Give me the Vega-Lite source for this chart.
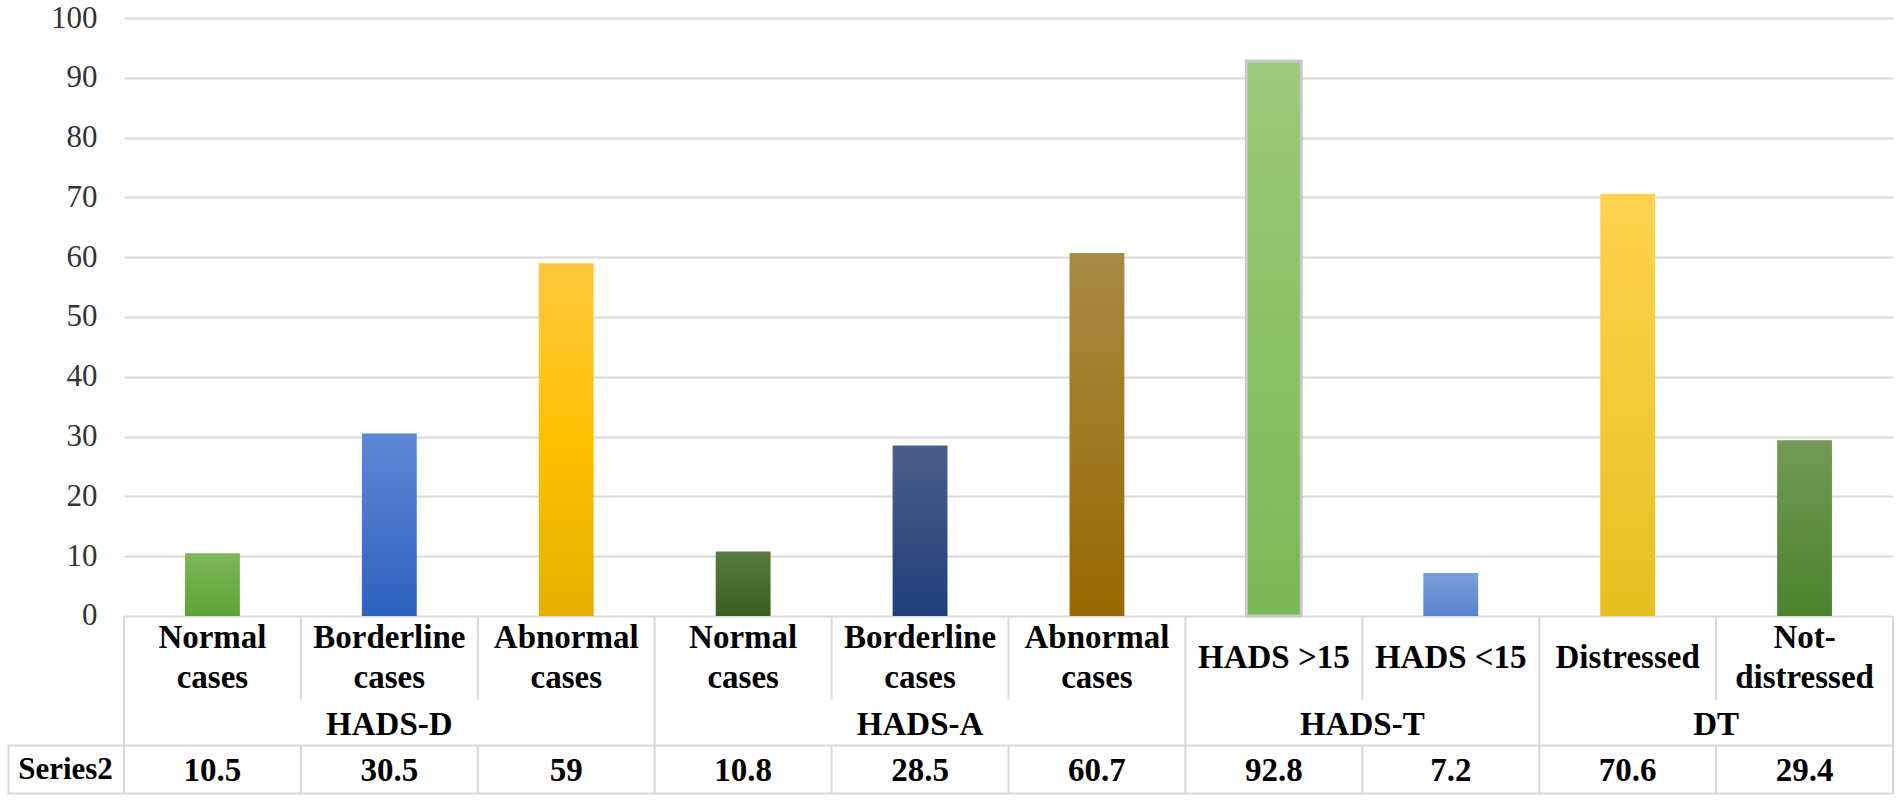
{
  "$schema": "https://vega.github.io/schema/vega-lite/v6.json",
  "width": 1769,
  "height": 775,
  "autosize": {"type": "none"},
  "padding": {"left": 124, "top": 18, "right": 9, "bottom": 9},
  "background": "white",
  "data": {
    "values": [
      {"key": "HADS-D Normal", "label": "Normal\ncases", "group": "HADS-D", "value": 10.5},
      {"key": "HADS-D Borderline", "label": "Borderline\ncases", "group": "HADS-D", "value": 30.5},
      {"key": "HADS-D Abnormal", "label": "Abnormal\ncases", "group": "HADS-D", "value": 59},
      {"key": "HADS-A Normal", "label": "Normal\ncases", "group": "HADS-A", "value": 10.8},
      {"key": "HADS-A Borderline", "label": "Borderline\ncases", "group": "HADS-A", "value": 28.5},
      {"key": "HADS-A Abnormal", "label": "Abnormal\ncases", "group": "HADS-A", "value": 60.7},
      {"key": "HADS-T >15", "label": "HADS >15", "group": "HADS-T", "value": 92.8},
      {"key": "HADS-T <15", "label": "HADS <15", "group": "HADS-T", "value": 7.2},
      {"key": "DT Distressed", "label": "Distressed", "group": "DT", "value": 70.6},
      {"key": "DT Not-distressed", "label": "Not-\ndistressed", "group": "DT", "value": 29.4}
    ]
  },
  "transform": [
    {"window": [{"op": "row_number", "as": "r"}], "groupby": ["group"]},
    {"joinaggregate": [{"op": "count", "as": "n"}], "groupby": ["group"]}
  ],
  "encoding": {
    "x": {
      "field": "key",
      "type": "nominal",
      "sort": null,
      "scale": {"paddingInner": 0, "paddingOuter": 0},
      "axis": null
    }
  },
  "layer": [
    {
      "mark": {"type": "bar", "width": {"band": 0.31}},
      "encoding": {
        "y": {
          "field": "value",
          "type": "quantitative",
          "scale": {"domain": [-29.6, 100], "nice": false, "zero": false},
          "axis": {
            "values": [0, 10, 20, 30, 40, 50, 60, 70, 80, 90, 100, -21.6, -25.6, -29.6],
            "title": null,
            "domain": false,
            "grid": true,
            "gridColor": "#d9d9d9",
            "gridWidth": 2,
            "gridOpacity": {"condition": {"test": "datum.value == -25.6", "value": 0}, "value": 1},
            "ticks": true,
            "tickSize": 117,
            "tickColor": "#d9d9d9",
            "tickWidth": {"condition": {"test": "datum.value == -25.6", "value": 48}, "value": 2},
            "tickOpacity": {"condition": {"test": "datum.value < 0", "value": 1}, "value": 0},
            "tickDash": {"condition": {"test": "datum.value == -25.6", "value": [2, 300]}, "value": []},
            "tickDashOffset": {"condition": {"test": "datum.value == -25.6", "value": 187}, "value": 0},
            "labelExpr": "datum.value == -25.6 ? 'Series2' : (datum.value < 0 ? '' : datum.label)",
            "labelAlign": {"condition": {"test": "datum.value == -25.6", "value": "center"}, "value": "right"},
            "labelPadding": {"condition": {"test": "datum.value == -25.6", "value": -58}, "value": -90},
            "labelFont": "Liberation Serif",
            "labelFontSize": 31,
            "labelFontWeight": {"condition": {"test": "datum.value == -25.6", "value": "bold"}, "value": "normal"},
            "labelColor": {"condition": {"test": "datum.value == -25.6", "value": "black"}, "value": "#333333"},
            "labelOverlap": false,
            "labelBound": false,
            "labelFlush": false
          }
        },
        "y2": {"datum": 0},
        "fill": {
          "condition": [
            {"test": "datum.key == 'HADS-D Normal'", "value": {"gradient": "linear", "x1": 0, "y1": 0, "x2": 0, "y2": 1, "stops": [{"offset": 0, "color": "#7cb85a"}, {"offset": 1, "color": "#5ea333"}]}},
            {"test": "datum.key == 'HADS-D Borderline'", "value": {"gradient": "linear", "x1": 0, "y1": 0, "x2": 0, "y2": 1, "stops": [{"offset": 0, "color": "#5d88d5"}, {"offset": 1, "color": "#2e62c0"}]}},
            {"test": "datum.key == 'HADS-D Abnormal'", "value": {"gradient": "linear", "x1": 0, "y1": 0, "x2": 0, "y2": 1, "stops": [{"offset": 0, "color": "#ffc83e"}, {"offset": 0.5, "color": "#ffc000"}, {"offset": 1, "color": "#e6b000"}]}},
            {"test": "datum.key == 'HADS-A Normal'", "value": {"gradient": "linear", "x1": 0, "y1": 0, "x2": 0, "y2": 1, "stops": [{"offset": 0, "color": "#587b3e"}, {"offset": 1, "color": "#375f1f"}]}},
            {"test": "datum.key == 'HADS-A Borderline'", "value": {"gradient": "linear", "x1": 0, "y1": 0, "x2": 0, "y2": 1, "stops": [{"offset": 0, "color": "#4b5e8b"}, {"offset": 1, "color": "#203f79"}]}},
            {"test": "datum.key == 'HADS-A Abnormal'", "value": {"gradient": "linear", "x1": 0, "y1": 0, "x2": 0, "y2": 1, "stops": [{"offset": 0, "color": "#a88a45"}, {"offset": 1, "color": "#986800"}]}},
            {"test": "datum.key == 'HADS-T >15'", "value": {"gradient": "linear", "x1": 0, "y1": 0, "x2": 0, "y2": 1, "stops": [{"offset": 0, "color": "#9cc97a"}, {"offset": 1, "color": "#7ab854"}]}},
            {"test": "datum.key == 'HADS-T <15'", "value": {"gradient": "linear", "x1": 0, "y1": 0, "x2": 0, "y2": 1, "stops": [{"offset": 0, "color": "#7c9fdc"}, {"offset": 1, "color": "#5a84d0"}]}},
            {"test": "datum.key == 'DT Distressed'", "value": {"gradient": "linear", "x1": 0, "y1": 0, "x2": 0, "y2": 1, "stops": [{"offset": 0, "color": "#ffd34f"}, {"offset": 1, "color": "#e6c020"}]}}
          ],
          "value": {"gradient": "linear", "x1": 0, "y1": 0, "x2": 0, "y2": 1, "stops": [{"offset": 0, "color": "#739a55"}, {"offset": 1, "color": "#4b832c"}]}
        },
        "stroke": {"condition": {"test": "datum.key == 'HADS-T >15'", "value": "#c8c8c8"}, "value": null},
        "strokeWidth": {"value": 3}
      }
    },
    {
      "transform": [{"filter": "datum.r == 1"}],
      "mark": {"type": "rule", "color": "#d9d9d9", "strokeWidth": 2},
      "encoding": {
        "x": {"field": "key", "type": "nominal", "sort": null, "bandPosition": 0},
        "y": {"datum": 0},
        "y2": {"datum": -29.6}
      }
    },
    {
      "transform": [{"filter": "datum.r > 1"}],
      "mark": {"type": "rule", "color": "#d9d9d9", "strokeWidth": 2},
      "encoding": {
        "x": {"field": "key", "type": "nominal", "sort": null, "bandPosition": 0},
        "y": {"datum": 0},
        "y2": {"datum": -14}
      }
    },
    {
      "transform": [{"filter": "datum.r > 1"}],
      "mark": {"type": "rule", "color": "#d9d9d9", "strokeWidth": 2},
      "encoding": {
        "x": {"field": "key", "type": "nominal", "sort": null, "bandPosition": 0},
        "y": {"datum": -21.6},
        "y2": {"datum": -29.6}
      }
    },
    {
      "transform": [{"filter": "datum.group == 'DT' && datum.r == datum.n"}],
      "mark": {"type": "rule", "color": "#d9d9d9", "strokeWidth": 2},
      "encoding": {
        "x": {"field": "key", "type": "nominal", "sort": null, "bandPosition": 1},
        "y": {"datum": 0},
        "y2": {"datum": -29.6}
      }
    },
    {
      "transform": [{"filter": "indexof(datum.label, '\\n') >= 0"}],
      "mark": {"type": "text", "font": "Liberation Serif", "fontSize": 33, "fontWeight": "bold", "color": "black", "lineBreak": "\n", "lineHeight": 40, "baseline": "middle"},
      "encoding": {
        "text": {"field": "label"},
        "y": {"datum": -3.7}
      }
    },
    {
      "transform": [{"filter": "indexof(datum.label, '\\n') < 0"}],
      "mark": {"type": "text", "font": "Liberation Serif", "fontSize": 33, "fontWeight": "bold", "color": "black", "baseline": "middle"},
      "encoding": {
        "text": {"field": "label"},
        "y": {"datum": -7}
      }
    },
    {
      "transform": [{"filter": "datum.n == 3 && datum.r == 2"}],
      "mark": {"type": "text", "font": "Liberation Serif", "fontSize": 33, "fontWeight": "bold", "color": "black", "baseline": "middle"},
      "encoding": {
        "x": {"field": "key", "type": "nominal", "sort": null, "bandPosition": 0.5},
        "text": {"field": "group"},
        "y": {"datum": -18.2}
      }
    },
    {
      "transform": [{"filter": "datum.n == 2 && datum.r == 1"}],
      "mark": {"type": "text", "font": "Liberation Serif", "fontSize": 33, "fontWeight": "bold", "color": "black", "baseline": "middle"},
      "encoding": {
        "x": {"field": "key", "type": "nominal", "sort": null, "bandPosition": 1},
        "text": {"field": "group"},
        "y": {"datum": -18.2}
      }
    },
    {
      "mark": {"type": "text", "font": "Liberation Serif", "fontSize": 33, "fontWeight": "bold", "color": "black", "baseline": "middle"},
      "encoding": {
        "text": {"field": "value"},
        "y": {"datum": -26}
      }
    }
  ],
  "config": {
    "view": {"stroke": null}
  }
}
